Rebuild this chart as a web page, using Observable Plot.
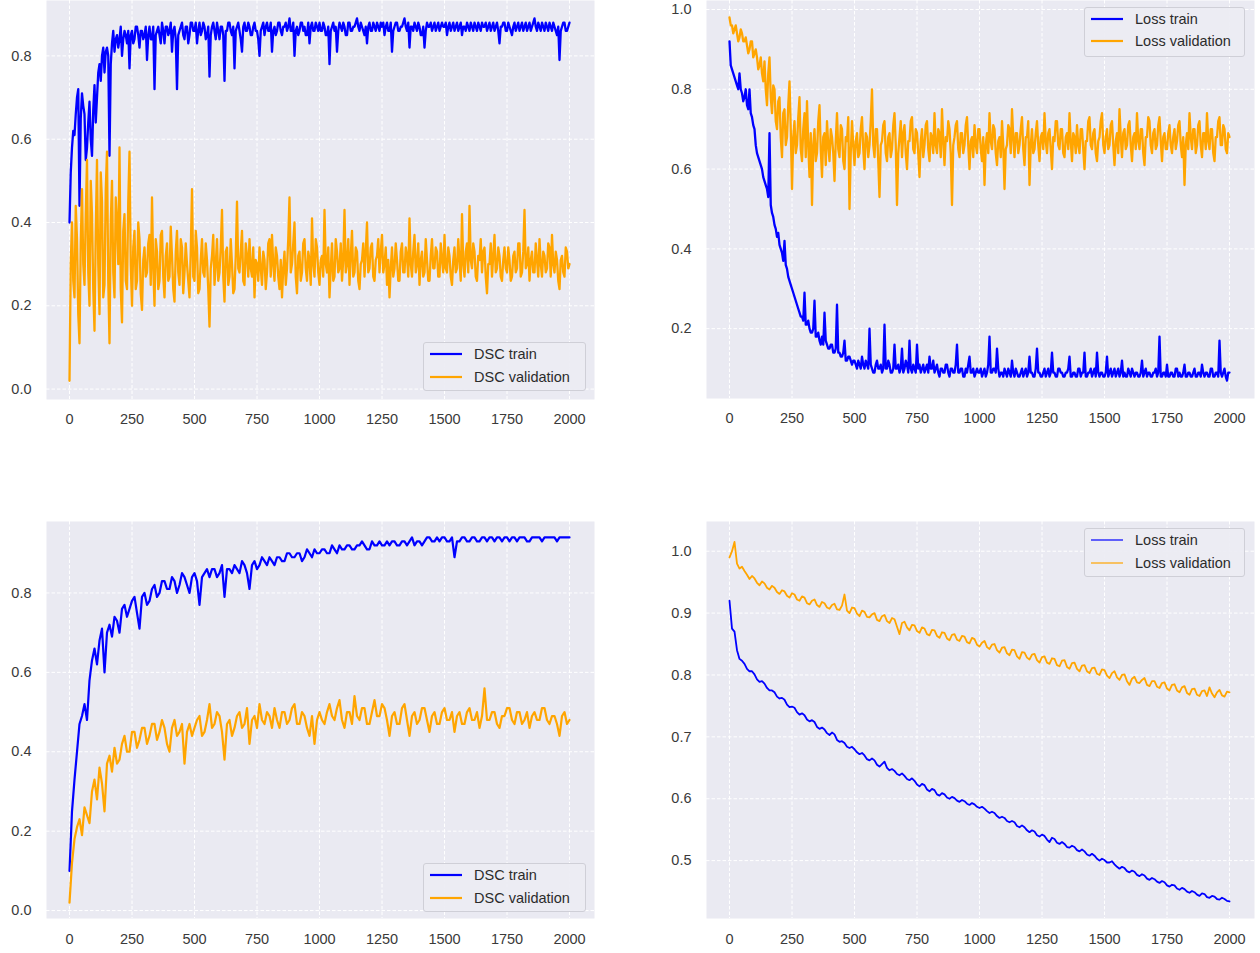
<!DOCTYPE html>
<html>
<head>
<meta charset="utf-8">
<script src="https://cdn.jsdelivr.net/npm/d3@7"></script>
<script src="https://cdn.jsdelivr.net/npm/@observablehq/plot@0.6"></script>
<style>
  html, body { margin: 0; padding: 0; background: #fff; }
  #root { position: relative; width: 1260px; height: 953px; overflow: hidden; font-family: "Liberation Sans", Arial, sans-serif; }
  .panel { position: absolute; }
  .legend { position: absolute; box-sizing: border-box; background: rgba(236,236,243,0.92); border: 1px solid #cfcfd7; border-radius: 3px; }
  .legend .row { position: absolute; left: 6px; height: 20px; display: flex; align-items: center; }
  .legend .row span { margin-left: 12px; font-size: 14.5px; color: #2b2b2b; white-space: nowrap; }
</style>
</head>
<body>
<div id="root"></div>
<script>
// ---------- data ----------
const epochsTop = d3.range(0, 2001, 5);     // 401 epochs, top row
const epochsBottom = d3.range(0, 2001, 10); // 201 epochs, bottom row
const xTicks = [0, 250, 500, 750, 1000, 1250, 1500, 1750, 2000];
const yTicksDSC = [0, 0.2, 0.4, 0.6, 0.8];
const yTicksLossTop = [0.2, 0.4, 0.6, 0.8, 1.0];
const yTicksLossBottom = [0.5, 0.6, 0.7, 0.8, 0.9, 1.0];
const legendDSC = ["DSC train", "DSC validation"];
const legendLoss = ["Loss train", "Loss validation"];

// top-left: DSC train / validation
const dscTrainTop = [
  0.40,0.52,0.58,0.62,0.61,0.66,0.70,0.72,0.44,0.65,0.71,0.68,0.66,0.55,0.58,0.64,0.69,0.60,0.56,0.67,0.73,0.64,0.70,0.76,0.78,0.74,0.80,0.82,0.76,0.81,0.82,0.80,0.56,0.78,0.83,0.86,0.81,0.84,0.85,0.82,0.84,0.87,0.80,0.84,0.86,0.85,0.83,0.86,0.77,0.85,
  0.86,0.83,0.84,0.87,0.87,0.85,0.82,0.86,0.86,0.84,0.85,0.87,0.79,0.85,0.87,0.84,0.84,0.87,0.72,0.85,0.86,0.87,0.85,0.83,0.88,0.86,0.83,0.87,0.87,0.85,0.86,0.88,0.81,0.86,0.87,0.84,0.72,0.85,0.86,0.87,0.88,0.85,0.84,0.87,0.87,0.83,0.85,0.88,0.88,0.86,
  0.86,0.88,0.83,0.86,0.88,0.85,0.86,0.88,0.87,0.84,0.85,0.87,0.75,0.85,0.87,0.88,0.86,0.84,0.88,0.86,0.84,0.87,0.87,0.85,0.74,0.86,0.86,0.88,0.88,0.86,0.85,0.87,0.77,0.86,0.87,0.88,0.86,0.84,0.81,0.87,0.88,0.86,0.86,0.88,0.87,0.85,0.85,0.87,0.88,0.86,
  0.86,0.84,0.80,0.86,0.87,0.88,0.85,0.87,0.88,0.86,0.86,0.88,0.81,0.86,0.87,0.85,0.86,0.88,0.88,0.86,0.85,0.87,0.87,0.88,0.86,0.87,0.89,0.86,0.86,0.88,0.80,0.86,0.87,0.85,0.86,0.88,0.88,0.86,0.87,0.85,0.85,0.88,0.83,0.87,0.88,0.86,0.86,0.88,0.87,0.86,
  0.88,0.86,0.86,0.88,0.87,0.85,0.85,0.87,0.78,0.86,0.87,0.88,0.86,0.87,0.81,0.86,0.88,0.87,0.86,0.88,0.87,0.85,0.85,0.88,0.88,0.86,0.86,0.87,0.87,0.88,0.89,0.87,0.86,0.88,0.87,0.86,0.85,0.87,0.83,0.87,0.88,0.86,0.86,0.88,0.87,0.86,0.88,0.87,0.86,0.88,
  0.87,0.88,0.85,0.87,0.88,0.86,0.86,0.88,0.81,0.86,0.87,0.88,0.88,0.86,0.86,0.87,0.87,0.88,0.89,0.87,0.86,0.88,0.82,0.87,0.87,0.86,0.88,0.87,0.86,0.88,0.87,0.85,0.85,0.87,0.82,0.86,0.88,0.87,0.87,0.88,0.86,0.87,0.88,0.86,0.87,0.88,0.86,0.87,0.88,0.87,
  0.87,0.88,0.85,0.87,0.88,0.86,0.87,0.88,0.86,0.87,0.88,0.86,0.87,0.88,0.85,0.87,0.87,0.86,0.88,0.87,0.86,0.88,0.87,0.86,0.88,0.87,0.86,0.88,0.87,0.86,0.88,0.87,0.87,0.88,0.86,0.87,0.88,0.86,0.87,0.88,0.86,0.87,0.88,0.86,0.83,0.87,0.87,0.88,0.88,0.86,
  0.86,0.88,0.87,0.86,0.85,0.87,0.88,0.86,0.87,0.88,0.86,0.87,0.88,0.86,0.87,0.88,0.86,0.87,0.88,0.86,0.87,0.88,0.89,0.87,0.86,0.88,0.87,0.86,0.88,0.87,0.86,0.88,0.87,0.86,0.88,0.87,0.86,0.88,0.87,0.86,0.85,0.87,0.79,0.86,0.87,0.88,0.88,0.86,0.86,0.87,
  0.88
];
const dscValTop = [
  0.02,0.30,0.40,0.26,0.22,0.44,0.36,0.18,0.11,0.35,0.48,0.30,0.25,0.42,0.55,0.28,0.20,0.50,0.42,0.24,0.14,0.38,0.55,0.30,0.18,0.52,0.45,0.22,0.25,0.48,0.57,0.26,0.11,0.40,0.50,0.28,0.22,0.46,0.40,0.30,0.58,0.24,0.16,0.38,0.42,0.26,0.24,0.45,0.57,0.30,
  0.20,0.34,0.38,0.24,0.26,0.40,0.36,0.23,0.19,0.31,0.34,0.27,0.28,0.35,0.37,0.25,0.46,0.29,0.20,0.36,0.33,0.24,0.26,0.37,0.38,0.27,0.22,0.32,0.35,0.26,0.27,0.39,0.32,0.24,0.21,0.33,0.38,0.28,0.25,0.36,0.34,0.23,0.28,0.35,0.30,0.26,0.22,0.33,0.48,0.27,
  0.26,0.38,0.34,0.23,0.24,0.31,0.36,0.28,0.27,0.35,0.31,0.24,0.15,0.29,0.32,0.37,0.25,0.30,0.36,0.26,0.28,0.34,0.43,0.27,0.21,0.33,0.34,0.25,0.27,0.36,0.30,0.23,0.24,0.32,0.45,0.29,0.28,0.33,0.38,0.26,0.25,0.35,0.32,0.27,0.36,0.29,0.27,0.34,0.22,0.31,
  0.30,0.26,0.34,0.29,0.25,0.33,0.31,0.24,0.28,0.35,0.36,0.27,0.37,0.30,0.26,0.34,0.32,0.27,0.24,0.31,0.22,0.29,0.33,0.25,0.29,0.36,0.46,0.28,0.30,0.35,0.40,0.27,0.23,0.32,0.33,0.26,0.28,0.35,0.36,0.29,0.26,0.33,0.31,0.25,0.41,0.30,0.27,0.36,0.34,0.28,
  0.25,0.31,0.32,0.27,0.43,0.30,0.28,0.34,0.22,0.29,0.35,0.26,0.27,0.36,0.33,0.28,0.29,0.35,0.26,0.31,0.43,0.28,0.30,0.36,0.25,0.32,0.38,0.27,0.28,0.34,0.33,0.26,0.24,0.30,0.31,0.35,0.27,0.33,0.40,0.28,0.29,0.34,0.35,0.27,0.26,0.31,0.32,0.36,0.28,0.33,
  0.37,0.28,0.30,0.34,0.25,0.31,0.22,0.29,0.34,0.27,0.29,0.35,0.31,0.26,0.26,0.33,0.35,0.28,0.28,0.34,0.32,0.27,0.41,0.30,0.27,0.33,0.37,0.28,0.30,0.35,0.25,0.31,0.33,0.27,0.28,0.36,0.31,0.26,0.26,0.32,0.36,0.29,0.29,0.34,0.33,0.27,0.27,0.35,0.31,0.28,
  0.37,0.29,0.28,0.34,0.32,0.27,0.25,0.31,0.34,0.28,0.29,0.36,0.31,0.26,0.42,0.30,0.27,0.33,0.35,0.28,0.44,0.31,0.29,0.35,0.33,0.27,0.26,0.32,0.31,0.36,0.28,0.33,0.34,0.27,0.23,0.30,0.30,0.35,0.27,0.32,0.37,0.28,0.29,0.34,0.32,0.27,0.26,0.31,0.34,0.29,
  0.28,0.34,0.31,0.26,0.27,0.32,0.33,0.28,0.29,0.35,0.35,0.27,0.28,0.33,0.43,0.29,0.30,0.34,0.26,0.31,0.33,0.28,0.28,0.35,0.31,0.27,0.36,0.30,0.27,0.33,0.32,0.28,0.29,0.35,0.34,0.27,0.37,0.30,0.28,0.33,0.31,0.26,0.24,0.31,0.32,0.28,0.27,0.34,0.33,0.29,
  0.30
];

// top-right: Loss train / validation
const lossTrainTop = [
  0.92,0.86,0.85,0.84,0.83,0.82,0.81,0.80,0.84,0.80,0.79,0.77,0.78,0.80,0.76,0.75,0.80,0.74,0.73,0.71,0.70,0.66,0.64,0.63,0.62,0.61,0.60,0.58,0.57,0.56,0.55,0.53,0.69,0.51,0.49,0.48,0.46,0.45,0.43,0.44,0.41,0.40,0.39,0.37,0.42,0.36,0.35,0.33,0.32,0.31,
  0.30,0.29,0.28,0.27,0.26,0.25,0.24,0.23,0.23,0.22,0.29,0.21,0.21,0.22,0.20,0.19,0.19,0.20,0.27,0.18,0.18,0.19,0.17,0.16,0.18,0.16,0.24,0.17,0.16,0.15,0.15,0.16,0.16,0.14,0.14,0.15,0.26,0.14,0.14,0.13,0.13,0.14,0.17,0.12,0.12,0.13,0.13,0.12,0.11,0.12,
  0.12,0.11,0.10,0.12,0.11,0.10,0.13,0.11,0.10,0.12,0.11,0.10,0.20,0.11,0.10,0.09,0.09,0.11,0.12,0.10,0.10,0.11,0.09,0.10,0.21,0.10,0.10,0.12,0.11,0.09,0.09,0.10,0.16,0.10,0.10,0.11,0.09,0.10,0.15,0.09,0.10,0.12,0.11,0.09,0.17,0.10,0.09,0.11,0.10,0.09,
  0.16,0.10,0.11,0.09,0.10,0.11,0.09,0.10,0.11,0.09,0.13,0.10,0.10,0.12,0.09,0.10,0.11,0.09,0.08,0.10,0.10,0.09,0.09,0.11,0.11,0.09,0.08,0.10,0.10,0.09,0.09,0.11,0.16,0.09,0.09,0.10,0.10,0.08,0.08,0.10,0.09,0.11,0.13,0.09,0.09,0.10,0.08,0.09,0.10,0.09,
  0.09,0.10,0.08,0.09,0.10,0.08,0.09,0.11,0.18,0.09,0.09,0.10,0.10,0.09,0.15,0.10,0.08,0.09,0.09,0.08,0.10,0.09,0.08,0.10,0.09,0.08,0.12,0.09,0.08,0.10,0.09,0.08,0.08,0.09,0.10,0.08,0.09,0.10,0.08,0.09,0.13,0.09,0.09,0.08,0.08,0.10,0.15,0.09,0.09,0.08,
  0.08,0.09,0.10,0.08,0.09,0.10,0.08,0.09,0.14,0.09,0.09,0.08,0.08,0.10,0.10,0.09,0.09,0.08,0.08,0.09,0.09,0.10,0.13,0.08,0.08,0.09,0.09,0.08,0.08,0.10,0.10,0.08,0.09,0.09,0.14,0.08,0.08,0.09,0.09,0.10,0.08,0.09,0.10,0.08,0.14,0.09,0.08,0.09,0.09,0.08,
  0.08,0.09,0.13,0.08,0.09,0.10,0.08,0.09,0.10,0.08,0.09,0.10,0.08,0.09,0.12,0.08,0.09,0.08,0.08,0.10,0.09,0.08,0.10,0.09,0.08,0.09,0.09,0.08,0.08,0.09,0.12,0.08,0.09,0.10,0.08,0.09,0.09,0.08,0.08,0.09,0.09,0.10,0.08,0.09,0.18,0.08,0.08,0.09,0.09,0.08,
  0.11,0.08,0.08,0.09,0.09,0.08,0.08,0.10,0.10,0.08,0.09,0.08,0.08,0.09,0.11,0.08,0.08,0.09,0.09,0.08,0.08,0.09,0.10,0.08,0.08,0.09,0.09,0.08,0.11,0.09,0.08,0.09,0.09,0.08,0.08,0.10,0.10,0.08,0.08,0.09,0.09,0.08,0.17,0.09,0.08,0.09,0.10,0.08,0.07,0.09,
  0.09
];
const lossValTop = [
  0.98,0.96,0.96,0.94,0.95,0.96,0.94,0.92,0.93,0.95,0.94,0.92,0.92,0.93,0.91,0.89,0.90,0.92,0.92,0.88,0.89,0.90,0.88,0.85,0.86,0.88,0.84,0.82,0.87,0.80,0.76,0.84,0.88,0.78,0.74,0.81,0.80,0.72,0.70,0.77,0.78,0.68,0.63,0.74,0.75,0.66,0.68,0.76,0.82,0.70,
  0.55,0.68,0.72,0.64,0.66,0.73,0.78,0.65,0.62,0.70,0.74,0.63,0.77,0.66,0.58,0.69,0.51,0.66,0.70,0.62,0.64,0.72,0.76,0.65,0.58,0.68,0.69,0.61,0.72,0.66,0.62,0.70,0.68,0.64,0.57,0.67,0.74,0.65,0.63,0.71,0.70,0.62,0.60,0.68,0.67,0.73,0.50,0.64,0.72,0.66,
  0.61,0.67,0.69,0.63,0.64,0.70,0.73,0.65,0.60,0.69,0.68,0.63,0.66,0.72,0.80,0.66,0.63,0.70,0.70,0.62,0.53,0.66,0.67,0.71,0.72,0.64,0.62,0.68,0.69,0.63,0.65,0.71,0.74,0.66,0.51,0.64,0.68,0.72,0.63,0.69,0.71,0.64,0.60,0.67,0.67,0.72,0.73,0.65,0.64,0.70,
  0.69,0.64,0.58,0.67,0.70,0.63,0.66,0.71,0.72,0.65,0.62,0.69,0.68,0.64,0.74,0.66,0.64,0.70,0.69,0.63,0.75,0.67,0.61,0.68,0.67,0.72,0.70,0.64,0.51,0.66,0.68,0.71,0.72,0.65,0.63,0.69,0.69,0.64,0.66,0.71,0.73,0.66,0.60,0.67,0.68,0.63,0.71,0.66,0.64,0.70,
  0.70,0.65,0.62,0.68,0.56,0.66,0.69,0.64,0.74,0.67,0.65,0.71,0.70,0.64,0.61,0.67,0.68,0.63,0.72,0.66,0.55,0.65,0.66,0.71,0.70,0.64,0.75,0.68,0.63,0.69,0.69,0.64,0.66,0.70,0.73,0.65,0.61,0.68,0.68,0.72,0.56,0.66,0.70,0.64,0.65,0.69,0.72,0.66,0.62,0.68,
  0.69,0.65,0.74,0.67,0.64,0.69,0.70,0.65,0.60,0.68,0.67,0.72,0.72,0.66,0.65,0.70,0.70,0.64,0.63,0.68,0.69,0.65,0.74,0.67,0.62,0.69,0.68,0.64,0.71,0.66,0.64,0.70,0.70,0.65,0.60,0.67,0.67,0.72,0.73,0.66,0.65,0.69,0.70,0.64,0.62,0.67,0.68,0.72,0.74,0.66,
  0.64,0.68,0.70,0.65,0.66,0.71,0.72,0.66,0.61,0.67,0.69,0.64,0.75,0.68,0.63,0.69,0.70,0.65,0.66,0.71,0.72,0.66,0.62,0.68,0.69,0.65,0.74,0.67,0.65,0.70,0.70,0.64,0.61,0.68,0.68,0.73,0.72,0.66,0.64,0.69,0.70,0.65,0.66,0.71,0.73,0.67,0.62,0.68,0.69,0.65,
  0.65,0.69,0.71,0.66,0.64,0.68,0.70,0.65,0.67,0.71,0.72,0.66,0.63,0.68,0.56,0.66,0.69,0.65,0.74,0.68,0.65,0.70,0.70,0.64,0.66,0.71,0.72,0.66,0.63,0.69,0.69,0.65,0.74,0.67,0.65,0.70,0.70,0.64,0.62,0.68,0.68,0.72,0.73,0.66,0.66,0.71,0.70,0.65,0.64,0.69,
  0.68
];

// bottom-left: DSC train / validation
const dscTrainBottom = [
  0.10,0.25,0.33,0.40,0.47,0.49,0.52,0.48,0.58,0.63,0.66,0.62,0.68,0.71,0.60,0.70,0.72,0.69,0.74,0.73,0.70,0.76,0.77,0.74,0.76,0.78,0.79,0.75,0.71,0.79,0.80,0.77,0.78,0.81,0.82,0.79,0.80,0.83,0.83,0.81,0.81,0.84,0.83,0.80,0.82,0.85,0.84,0.82,0.80,0.84,
  0.85,0.83,0.77,0.84,0.85,0.86,0.84,0.86,0.86,0.84,0.85,0.87,0.79,0.86,0.86,0.85,0.87,0.86,0.85,0.88,0.87,0.85,0.81,0.87,0.88,0.86,0.87,0.89,0.88,0.87,0.89,0.88,0.87,0.89,0.89,0.88,0.88,0.90,0.90,0.89,0.89,0.90,0.90,0.88,0.89,0.91,0.90,0.89,0.91,0.90,
  0.90,0.91,0.91,0.90,0.90,0.92,0.91,0.90,0.92,0.91,0.91,0.92,0.92,0.91,0.91,0.92,0.92,0.93,0.92,0.91,0.91,0.93,0.92,0.92,0.93,0.92,0.92,0.93,0.92,0.93,0.93,0.92,0.92,0.93,0.93,0.92,0.93,0.94,0.92,0.93,0.93,0.92,0.93,0.94,0.94,0.93,0.93,0.94,0.93,0.94,
  0.94,0.93,0.93,0.94,0.89,0.93,0.93,0.94,0.94,0.93,0.93,0.94,0.94,0.93,0.93,0.94,0.94,0.93,0.94,0.94,0.93,0.94,0.94,0.93,0.94,0.94,0.93,0.94,0.94,0.93,0.94,0.94,0.94,0.93,0.93,0.94,0.94,0.94,0.94,0.93,0.94,0.94,0.94,0.94,0.94,0.93,0.94,0.94,0.94,0.94,
  0.94
];
const dscValBottom = [
  0.02,0.12,0.18,0.21,0.23,0.19,0.26,0.24,0.22,0.30,0.33,0.28,0.36,0.32,0.25,0.37,0.39,0.35,0.41,0.37,0.38,0.42,0.44,0.40,0.40,0.45,0.45,0.41,0.43,0.46,0.46,0.42,0.44,0.47,0.47,0.43,0.45,0.48,0.46,0.42,0.40,0.46,0.48,0.44,0.45,0.47,0.37,0.45,0.47,0.44,
  0.46,0.48,0.49,0.44,0.45,0.48,0.52,0.46,0.47,0.50,0.49,0.45,0.38,0.47,0.48,0.44,0.46,0.49,0.50,0.46,0.47,0.51,0.42,0.48,0.49,0.46,0.52,0.48,0.47,0.50,0.49,0.46,0.51,0.48,0.46,0.50,0.50,0.47,0.48,0.51,0.52,0.47,0.47,0.50,0.49,0.46,0.44,0.49,0.42,0.48,
  0.50,0.48,0.47,0.50,0.52,0.49,0.48,0.51,0.53,0.48,0.46,0.50,0.50,0.47,0.54,0.49,0.48,0.51,0.51,0.47,0.47,0.50,0.53,0.49,0.49,0.52,0.51,0.48,0.44,0.49,0.50,0.47,0.47,0.51,0.52,0.48,0.44,0.49,0.50,0.47,0.48,0.51,0.51,0.48,0.45,0.49,0.50,0.47,0.47,0.50,
  0.51,0.48,0.48,0.50,0.45,0.49,0.50,0.47,0.47,0.50,0.51,0.48,0.48,0.50,0.46,0.49,0.56,0.48,0.48,0.50,0.50,0.47,0.46,0.49,0.49,0.51,0.51,0.48,0.47,0.50,0.50,0.47,0.48,0.50,0.46,0.49,0.50,0.48,0.48,0.51,0.51,0.48,0.47,0.49,0.49,0.47,0.44,0.49,0.50,0.47,
  0.48
];

// bottom-right: Loss train / validation
const lossTrainBottom = [
  0.92,0.875,0.87,0.84,0.826,0.823,0.818,0.81,0.806,0.806,0.801,0.793,0.789,0.79,0.786,0.779,0.775,0.775,0.772,0.765,0.762,0.763,0.76,0.752,0.748,0.749,0.747,0.74,0.736,0.738,0.735,0.728,0.725,0.727,0.724,0.716,0.713,0.715,0.712,0.706,0.703,0.707,0.704,0.695,0.692,0.693,0.69,0.684,0.682,0.684,
  0.68,0.675,0.672,0.674,0.67,0.664,0.662,0.665,0.662,0.655,0.652,0.656,0.66,0.65,0.646,0.648,0.645,0.64,0.638,0.641,0.637,0.632,0.63,0.633,0.629,0.623,0.62,0.624,0.622,0.615,0.612,0.616,0.614,0.607,0.605,0.609,0.607,0.602,0.6,0.603,0.601,0.597,0.595,0.598,0.596,0.592,0.59,0.593,0.591,0.587,
  0.585,0.587,0.584,0.58,0.577,0.579,0.577,0.572,0.569,0.571,0.569,0.564,0.562,0.564,0.562,0.556,0.554,0.557,0.554,0.549,0.546,0.549,0.547,0.541,0.539,0.542,0.54,0.534,0.53,0.537,0.535,0.529,0.527,0.53,0.527,0.522,0.521,0.524,0.522,0.517,0.515,0.518,0.515,0.51,0.508,0.511,0.508,0.503,0.5,0.503,
  0.501,0.497,0.497,0.499,0.494,0.49,0.487,0.49,0.488,0.483,0.481,0.484,0.482,0.477,0.475,0.478,0.476,0.471,0.469,0.472,0.47,0.466,0.464,0.467,0.465,0.46,0.458,0.461,0.46,0.455,0.453,0.456,0.454,0.45,0.448,0.451,0.449,0.445,0.443,0.447,0.446,0.441,0.44,0.443,0.442,0.438,0.437,0.44,0.438,0.435,
  0.434
];
const lossValBottom = [
  0.99,1.0,1.015,0.98,0.972,0.975,0.968,0.962,0.955,0.96,0.956,0.949,0.945,0.951,0.948,0.941,0.938,0.944,0.941,0.934,0.931,0.937,0.935,0.928,0.925,0.932,0.93,0.922,0.92,0.927,0.925,0.916,0.914,0.92,0.922,0.913,0.91,0.918,0.916,0.909,0.907,0.913,0.915,0.906,0.905,0.912,0.93,0.904,0.9,0.909,
  0.908,0.899,0.895,0.904,0.902,0.894,0.893,0.898,0.9,0.889,0.887,0.895,0.897,0.887,0.884,0.892,0.89,0.878,0.866,0.884,0.886,0.877,0.872,0.881,0.88,0.871,0.868,0.877,0.875,0.866,0.864,0.873,0.872,0.863,0.86,0.869,0.868,0.859,0.856,0.865,0.866,0.857,0.855,0.863,0.862,0.853,0.851,0.86,0.858,0.849,
  0.846,0.852,0.855,0.845,0.842,0.849,0.85,0.84,0.836,0.844,0.845,0.835,0.832,0.841,0.84,0.83,0.826,0.837,0.836,0.828,0.825,0.833,0.834,0.824,0.82,0.829,0.83,0.82,0.818,0.827,0.826,0.816,0.814,0.823,0.824,0.813,0.81,0.819,0.82,0.81,0.806,0.815,0.816,0.806,0.803,0.811,0.812,0.802,0.8,0.809,
  0.808,0.799,0.795,0.803,0.806,0.796,0.792,0.8,0.801,0.79,0.784,0.794,0.797,0.788,0.787,0.792,0.795,0.784,0.782,0.79,0.79,0.781,0.779,0.787,0.788,0.778,0.775,0.784,0.785,0.775,0.772,0.78,0.782,0.771,0.768,0.777,0.778,0.768,0.766,0.774,0.775,0.766,0.78,0.77,0.764,0.772,0.776,0.767,0.765,0.773,
  0.772
];

// ---------- drawing ----------
const COLORS = ["#0000ff", "#ffa500"];
const FONT = "'Liberation Sans', Arial, sans-serif";

function rows(epochs, values, name) {
  return epochs.map((e, i) => ({epoch: e, value: values[i], series: name})).filter(d => d.value != null);
}

function panel(cfg) {
  const gridStyle = {stroke: "#ffffff", strokeOpacity: 1, strokeWidth: 1, strokeDasharray: "3.5,2"};
  const chart = Plot.plot({
    width: cfg.width,
    height: cfg.height,
    marginLeft: 46,
    marginRight: 6,
    marginTop: cfg.mt,
    marginBottom: cfg.mb,
    style: {fontFamily: FONT, fontSize: "14.5px", color: "#3a3a3a", background: "transparent", overflow: "visible"},
    x: {domain: [-92, 2100]},
    y: {domain: cfg.yDomain},
    marks: [
      Plot.frame({fill: "#eaeaf2", stroke: "none"}),
      Plot.gridX(xTicks, gridStyle),
      Plot.gridY(cfg.yTicks, gridStyle),
      Plot.axisX(xTicks, {tickSize: 0, tickPadding: cfg.xPad, label: null, tickFormat: d => String(d)}),
      Plot.axisY(cfg.yTicks, {tickSize: 0, tickPadding: 15, label: null, tickFormat: d3.format(".1f")}),
      Plot.line(rows(cfg.epochs, cfg.series[0], cfg.labels[0]), {x: "epoch", y: "value", stroke: COLORS[0], strokeWidth: cfg.sw, strokeLinejoin: "round"}),
      Plot.line(rows(cfg.epochs, cfg.series[1], cfg.labels[1]), {x: "epoch", y: "value", stroke: COLORS[1], strokeWidth: cfg.sw, strokeLinejoin: "round"})
    ]
  });
  const wrap = document.createElement("div");
  wrap.className = "panel";
  wrap.style.left = cfg.left + "px";
  wrap.style.top = cfg.top + "px";
  wrap.appendChild(chart);
  root.appendChild(wrap);

  const lg = document.createElement("div");
  lg.className = "legend";
  lg.style.left = cfg.legend[0] + "px";
  lg.style.top = cfg.legend[1] + "px";
  lg.style.width = cfg.legend[2] + "px";
  lg.style.height = cfg.legend[3] + "px";
  cfg.labels.forEach((label, i) => {
    const row = document.createElement("div");
    row.className = "row";
    row.style.top = (cfg.rowTops[i]) + "px";
    row.innerHTML = `<svg width="32" height="6"><line x1="0" x2="32" y1="3" y2="3" stroke="${COLORS[i]}" stroke-width="${cfg.legendSw}"/></svg>`;
    const span = document.createElement("span");
    span.textContent = label;
    row.appendChild(span);
    lg.appendChild(row);
  });
  root.appendChild(lg);
}

const root = document.getElementById("root");

panel({left: 0, top: 0, width: 600, height: 440, mt: 0, mb: 41, xPad: 14,
  yDomain: [-0.025, 0.933], yTicks: yTicksDSC, epochs: epochsTop,
  series: [dscTrainTop, dscValTop], labels: legendDSC, sw: 2.3,
  legend: [423, 342, 163, 49], rowTops: [1, 24], legendSw: 2.2});

panel({left: 660, top: 0, width: 600, height: 440, mt: 0, mb: 42, xPad: 14,
  yDomain: [0.025, 1.0225], yTicks: yTicksLossTop, epochs: epochsTop,
  series: [lossTrainTop, lossValTop], labels: legendLoss, sw: 2.3,
  legend: [1084, 7, 161, 50], rowTops: [1, 23], legendSw: 2.2});

panel({left: 0, top: 510, width: 600, height: 443, mt: 11, mb: 35, xPad: 15,
  yDomain: [-0.02, 0.98], yTicks: yTicksDSC, epochs: epochsBottom,
  series: [dscTrainBottom, dscValBottom], labels: legendDSC, sw: 2.2,
  legend: [423, 863, 163, 49], rowTops: [1, 24], legendSw: 2.2});

panel({left: 660, top: 510, width: 600, height: 443, mt: 11, mb: 35, xPad: 15,
  yDomain: [0.4065, 1.048], yTicks: yTicksLossBottom, epochs: epochsBottom,
  series: [lossTrainBottom, lossValBottom], labels: legendLoss, sw: 1.8,
  legend: [1084, 528, 161, 49], rowTops: [1, 24], legendSw: 1.2});
</script>
</body>
</html>
